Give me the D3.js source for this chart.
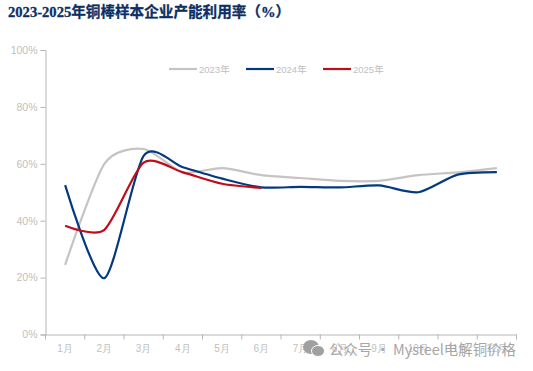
<!DOCTYPE html>
<html>
<head>
<meta charset="utf-8">
<script src="https://cdn.jsdelivr.net/npm/d3@7"></script>
<style>
  html, body { margin: 0; padding: 0; background: #fff; }
  svg { display: block; }
</style>
</head>
<body>
<div id="chart"></div>
<script>
const months = ['1月', '2月', '3月', '4月', '5月', '6月', '7月', '8月', '9月', '10月', '11月', '12月'];
const yTicks = [0, 20, 40, 60, 80, 100];
const values2023 = [24.5, 60, 65.2, 57, 58.5, 56, 55, 54, 54, 56, 57, 58.5];
const values2024 = [52.5, 19.8, 62.8, 58.8, 54.8, 51.7, 51.9, 51.7, 52.4, 50, 56.2, 57.1];
const values2025 = [38.2, 36.8, 60.4, 57, 53, 51.5];
const seriesNames = ['2023年', '2024年', '2025年'];
const seriesColors = ['#c6c3c2', '#03397f', '#c00d1a'];

const WIDTH = 533;
const HEIGHT = 371;
const AXIS_COLOR = '#b5b5b5';
const LABEL_COLOR = '#c0c0c0';
const FONT = '"Liberation Sans", "Noto Sans CJK SC", sans-serif';

const svg = d3.select('#chart')
  .append('svg')
  .attr('width', WIDTH)
  .attr('height', HEIGHT)
  .style('font-family', FONT);

svg.append('text')
  .attr('x', 8)
  .attr('y', 17)
  .attr('fill', '#0b2f63')
  .attr('stroke', '#0b2f63')
  .attr('stroke-width', 0.3)
  .style('font-family', '"Liberation Serif", "Noto Sans CJK SC", serif')
  .style('font-size', '14.6px')
  .style('font-weight', 'bold')
  .text('2023-2025年铜棒样本企业产能利用率（%）');

const x = d3.scaleBand().domain(months).range([45.5, 516.5]);
const y = d3.scaleLinear().domain([0, 100]).range([334.5, 50]);

const xAxis = svg.append('g')
  .attr('transform', 'translate(0,334.5)')
  .call(d3.axisBottom(x).tickSize(0).tickPadding(10));
xAxis.select('.domain').attr('stroke', AXIS_COLOR);
xAxis.selectAll('text').attr('fill', LABEL_COLOR).style('font-size', '10px');

// tick marks sit on the band edges
xAxis.selectAll('.edge')
  .data(d3.range(months.length + 1))
  .enter()
  .append('line')
  .attr('class', 'edge')
  .attr('x1', i => 45.5 + i * x.step())
  .attr('x2', i => 45.5 + i * x.step())
  .attr('y1', 0)
  .attr('y2', 5)
  .attr('stroke', AXIS_COLOR);

const yAxis = svg.append('g')
  .attr('transform', 'translate(45.5,0)')
  .call(d3.axisLeft(y).tickValues(yTicks).tickFormat(d => d + '%').tickSize(5).tickPadding(3));
yAxis.select('.domain').attr('stroke', AXIS_COLOR);
yAxis.selectAll('line').attr('stroke', AXIS_COLOR);
yAxis.selectAll('text').attr('fill', LABEL_COLOR).style('font-size', '10.5px');

const line = d3.line()
  .x((d, i) => x(months[i]) + x.bandwidth() / 2)
  .y(d => y(d))
  .curve(d3.curveCardinal.tension(0.25));

[values2023, values2024, values2025].forEach((values, i) => {
  svg.append('path')
    .datum(values)
    .attr('fill', 'none')
    .attr('stroke', seriesColors[i])
    .attr('stroke-width', 2.2)
    .attr('d', line);
});

const legendX = [169, 246, 323];
seriesNames.forEach((name, i) => {
  const g = svg.append('g').attr('transform', `translate(${legendX[i]},69)`);
  g.append('line')
    .attr('x1', 0)
    .attr('x2', 28)
    .attr('stroke', seriesColors[i])
    .attr('stroke-width', 2.2);
  g.append('text')
    .attr('x', 30)
    .attr('y', 3.5)
    .attr('fill', LABEL_COLOR)
    .style('font-size', '9.5px')
    .text(name);
});

// watermark
const mark = svg.append('g');
mark.append('ellipse').attr('cx', 311).attr('cy', 347).attr('rx', 8).attr('ry', 7).attr('fill', '#a0a0a0');
mark.append('ellipse').attr('cx', 318).attr('cy', 351).attr('rx', 6.5).attr('ry', 5.5)
  .attr('fill', '#a0a0a0').attr('stroke', '#fff').attr('stroke-width', 1);
mark.append('text')
  .attr('x', 329)
  .attr('y', 355)
  .attr('fill', '#a6a6a6')
  .style('font-family', '"Noto Sans CJK SC", sans-serif')
  .style('font-size', '14.4px')
  .text('公众号 · Mysteel电解铜价格');
</script>
</body>
</html>
